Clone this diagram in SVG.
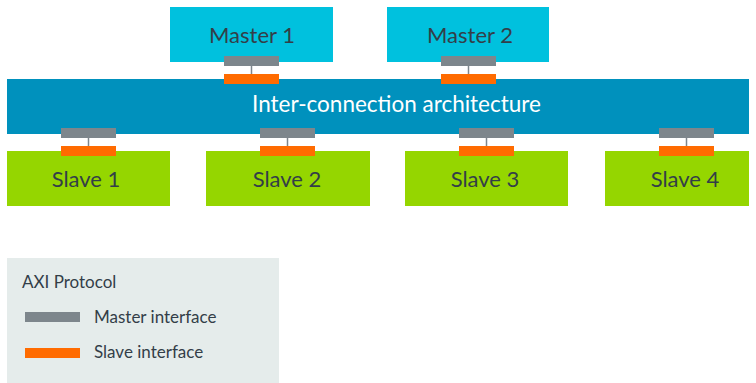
<svg xmlns="http://www.w3.org/2000/svg" width="756" height="383" viewBox="0 0 756 383">
<style>
.master{fill:#00c1de}
.slave{fill:#95d600}
.bus{fill:#0091bd}
.mi{fill:#7d868c}
.si{fill:#ff6b00}
.lbl{font-family:Lato,"Open Sans",sans-serif;font-size:22px;fill:#333e48;text-anchor:middle}
.buslbl{font-family:Lato,"Open Sans",sans-serif;font-size:22.5px;fill:#ffffff;text-anchor:middle}
.leg{font-family:Lato,"Open Sans",sans-serif;font-size:17px;fill:#333e48}
.conn{stroke:#7d868c;stroke-width:1.5}
</style>
<rect width="756" height="383" fill="#ffffff"/>
<g id="interconnect">
<rect class="bus" x="7" y="79" width="742" height="55"/>
<text class="buslbl" x="396.5" y="112">Inter-connection architecture</text>
</g>
<g id="master1">
<rect class="master" x="170" y="7" width="163" height="55"/>
<text class="lbl" x="252" y="43">Master 1</text>
</g>
<g id="master2">
<rect class="master" x="387" y="7" width="162" height="55"/>
<text class="lbl" x="470" y="43">Master 2</text>
</g>
<g id="slave1">
<rect class="slave" x="7" y="151" width="163" height="55"/>
<text class="lbl" x="86" y="187">Slave 1</text>
</g>
<g id="slave2">
<rect class="slave" x="206" y="151" width="164" height="55"/>
<text class="lbl" x="287" y="187">Slave 2</text>
</g>
<g id="slave3">
<rect class="slave" x="405" y="151" width="163" height="55"/>
<text class="lbl" x="485" y="187">Slave 3</text>
</g>
<g id="slave4">
<rect class="slave" x="605" y="151" width="144" height="55"/>
<text class="lbl" x="685" y="187">Slave 4</text>
</g>
<g id="connectors">
<line class="conn" x1="251.5" y1="66" x2="251.5" y2="74"/>
<rect class="mi" x="224" y="56" width="55" height="10"/>
<rect class="si" x="224" y="74" width="55" height="10"/>
<line class="conn" x1="468.5" y1="66" x2="468.5" y2="74"/>
<rect class="mi" x="441" y="56" width="55" height="10"/>
<rect class="si" x="441" y="74" width="55" height="10"/>
<line class="conn" x1="88.5" y1="138" x2="88.5" y2="146"/>
<rect class="mi" x="61" y="128" width="55" height="10"/>
<rect class="si" x="61" y="146" width="55" height="10"/>
<line class="conn" x1="287.5" y1="138" x2="287.5" y2="146"/>
<rect class="mi" x="260" y="128" width="55" height="10"/>
<rect class="si" x="260" y="146" width="55" height="10"/>
<line class="conn" x1="486.5" y1="138" x2="486.5" y2="146"/>
<rect class="mi" x="459" y="128" width="55" height="10"/>
<rect class="si" x="459" y="146" width="55" height="10"/>
<line class="conn" x1="686.5" y1="138" x2="686.5" y2="146"/>
<rect class="mi" x="659" y="128" width="55" height="10"/>
<rect class="si" x="659" y="146" width="55" height="10"/>
</g>
<g id="legend">
<rect x="7" y="258" width="272" height="125" fill="#e5eceb"/>
<text class="leg" x="22" y="288">AXI Protocol</text>
<rect class="mi" x="25" y="312" width="55" height="10"/>
<text class="leg" x="94" y="323">Master interface</text>
<rect class="si" x="25" y="348" width="55" height="10"/>
<text class="leg" x="94" y="358">Slave interface</text>
</g>
</svg>
